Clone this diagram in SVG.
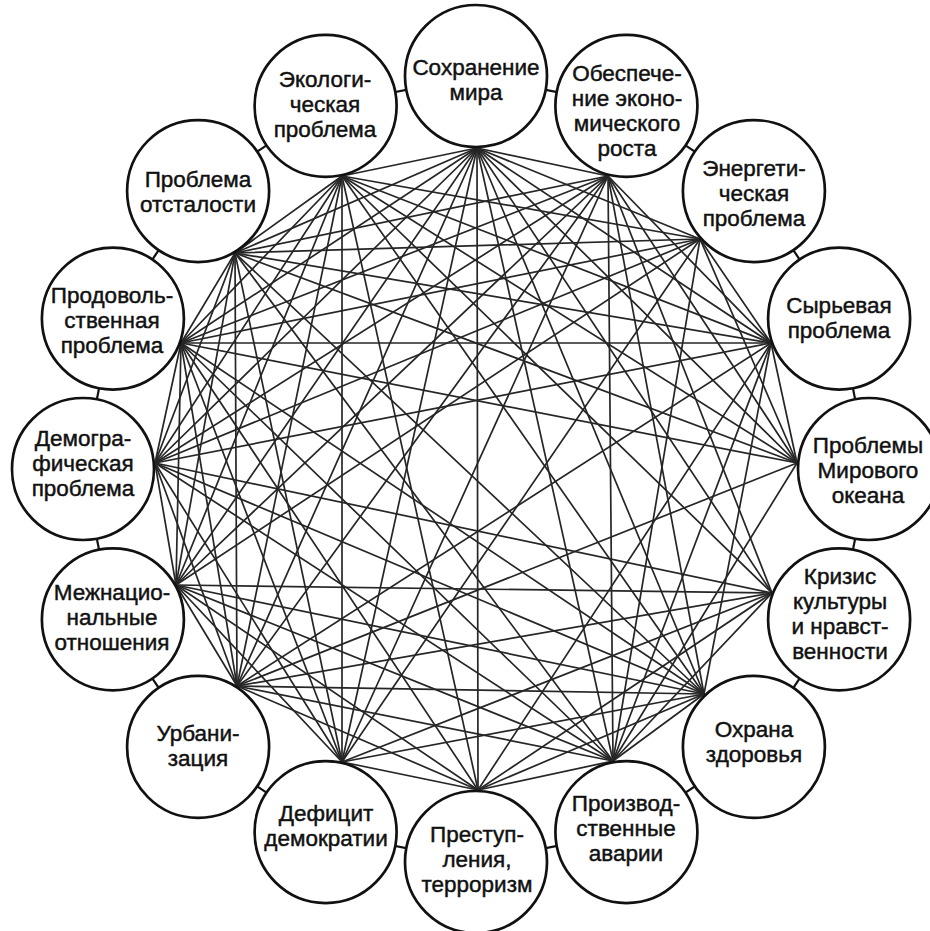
<svg xmlns="http://www.w3.org/2000/svg" width="930" height="931" viewBox="0 0 930 931">
<style>
.bg{fill:#ffffff}
.ring{stroke:#111;stroke-width:2.2}
.e{stroke:#262626;stroke-width:1.7;stroke-linecap:round}
.node{fill:#ffffff;stroke:#111;stroke-width:2.7}
.t{font-family:"Liberation Sans",Arial,sans-serif;font-size:22.5px;fill:#111;stroke:#111;stroke-width:0.45;text-anchor:middle}
</style>
<rect class="bg" x="0" y="0" width="930" height="931"/>
<g id="connectors">
<g id="ring-links" class="ring">
<line x1="476" y1="76" x2="626.4" y2="105.9"/>
<line x1="626.4" y1="105.9" x2="753.9" y2="191.1"/>
<line x1="753.9" y1="191.1" x2="839.1" y2="318.6"/>
<line x1="839.1" y1="318.6" x2="869" y2="469"/>
<line x1="869" y1="469" x2="839.1" y2="619.4"/>
<line x1="839.1" y1="619.4" x2="753.9" y2="746.9"/>
<line x1="753.9" y1="746.9" x2="626.4" y2="832.1"/>
<line x1="626.4" y1="832.1" x2="476" y2="862"/>
<line x1="476" y1="862" x2="325.6" y2="832.1"/>
<line x1="325.6" y1="832.1" x2="198.1" y2="746.9"/>
<line x1="198.1" y1="746.9" x2="112.9" y2="619.4"/>
<line x1="112.9" y1="619.4" x2="83" y2="469"/>
<line x1="83" y1="469" x2="112.9" y2="318.6"/>
<line x1="112.9" y1="318.6" x2="198.1" y2="191.1"/>
<line x1="198.1" y1="191.1" x2="325.6" y2="105.9"/>
<line x1="325.6" y1="105.9" x2="476" y2="76"/>
</g>
<g id="links" class="e">
<line x1="477" y1="148" x2="608" y2="176"/>
<line x1="477" y1="148" x2="342" y2="176"/>
<line x1="700" y1="239" x2="771" y2="343"/>
<line x1="771" y1="343" x2="797" y2="463"/>
<line x1="704" y1="694" x2="613" y2="761"/>
<line x1="613" y1="761" x2="478" y2="790"/>
<line x1="478" y1="790" x2="342" y2="762"/>
<line x1="237" y1="686" x2="176" y2="585"/>
<line x1="176" y1="585" x2="155" y2="463"/>
<line x1="155" y1="463" x2="181" y2="343"/>
<line x1="181" y1="343" x2="235" y2="253"/>
<line x1="235" y1="253" x2="342" y2="176"/>
<line x1="477" y1="148" x2="478" y2="790"/>
<line x1="608" y1="176" x2="342" y2="762"/>
<line x1="704" y1="694" x2="235" y2="253"/>
<line x1="477" y1="148" x2="613" y2="761"/>
<line x1="477" y1="148" x2="342" y2="762"/>
<line x1="608" y1="176" x2="237" y2="686"/>
<line x1="700" y1="239" x2="342" y2="762"/>
<line x1="700" y1="239" x2="176" y2="585"/>
<line x1="771" y1="343" x2="237" y2="686"/>
<line x1="771" y1="343" x2="155" y2="463"/>
<line x1="797" y1="463" x2="181" y2="343"/>
<line x1="772" y1="593" x2="155" y2="463"/>
<line x1="704" y1="694" x2="181" y2="343"/>
<line x1="704" y1="694" x2="342" y2="176"/>
<line x1="613" y1="761" x2="235" y2="253"/>
<line x1="478" y1="790" x2="342" y2="176"/>
<line x1="477" y1="148" x2="704" y2="694"/>
<line x1="477" y1="148" x2="237" y2="686"/>
<line x1="608" y1="176" x2="613" y2="761"/>
<line x1="608" y1="176" x2="176" y2="585"/>
<line x1="700" y1="239" x2="155" y2="463"/>
<line x1="771" y1="343" x2="181" y2="343"/>
<line x1="797" y1="463" x2="237" y2="686"/>
<line x1="797" y1="463" x2="235" y2="253"/>
<line x1="772" y1="593" x2="176" y2="585"/>
<line x1="772" y1="593" x2="342" y2="176"/>
<line x1="704" y1="694" x2="155" y2="463"/>
<line x1="613" y1="761" x2="181" y2="343"/>
<line x1="342" y1="762" x2="342" y2="176"/>
<line x1="477" y1="148" x2="772" y2="593"/>
<line x1="477" y1="148" x2="176" y2="585"/>
<line x1="608" y1="176" x2="704" y2="694"/>
<line x1="608" y1="176" x2="155" y2="463"/>
<line x1="700" y1="239" x2="613" y2="761"/>
<line x1="700" y1="239" x2="181" y2="343"/>
<line x1="771" y1="343" x2="478" y2="790"/>
<line x1="771" y1="343" x2="235" y2="253"/>
<line x1="797" y1="463" x2="342" y2="176"/>
<line x1="772" y1="593" x2="237" y2="686"/>
<line x1="704" y1="694" x2="176" y2="585"/>
<line x1="613" y1="761" x2="155" y2="463"/>
<line x1="478" y1="790" x2="181" y2="343"/>
<line x1="342" y1="762" x2="235" y2="253"/>
<line x1="237" y1="686" x2="342" y2="176"/>
<line x1="477" y1="148" x2="797" y2="463"/>
<line x1="477" y1="148" x2="155" y2="463"/>
<line x1="608" y1="176" x2="772" y2="593"/>
<line x1="608" y1="176" x2="181" y2="343"/>
<line x1="700" y1="239" x2="235" y2="253"/>
<line x1="771" y1="343" x2="613" y2="761"/>
<line x1="771" y1="343" x2="342" y2="176"/>
<line x1="772" y1="593" x2="342" y2="762"/>
<line x1="704" y1="694" x2="237" y2="686"/>
<line x1="613" y1="761" x2="176" y2="585"/>
<line x1="342" y1="762" x2="181" y2="343"/>
<line x1="237" y1="686" x2="235" y2="253"/>
<line x1="176" y1="585" x2="342" y2="176"/>
<line x1="477" y1="148" x2="771" y2="343"/>
<line x1="477" y1="148" x2="181" y2="343"/>
<line x1="608" y1="176" x2="797" y2="463"/>
<line x1="608" y1="176" x2="235" y2="253"/>
<line x1="700" y1="239" x2="342" y2="176"/>
<line x1="771" y1="343" x2="704" y2="694"/>
<line x1="797" y1="463" x2="613" y2="761"/>
<line x1="772" y1="593" x2="478" y2="790"/>
<line x1="704" y1="694" x2="342" y2="762"/>
<line x1="613" y1="761" x2="237" y2="686"/>
<line x1="478" y1="790" x2="176" y2="585"/>
<line x1="342" y1="762" x2="155" y2="463"/>
<line x1="237" y1="686" x2="181" y2="343"/>
<line x1="176" y1="585" x2="235" y2="253"/>
<line x1="155" y1="463" x2="342" y2="176"/>
<line x1="477" y1="148" x2="700" y2="239"/>
<line x1="477" y1="148" x2="235" y2="253"/>
<line x1="608" y1="176" x2="771" y2="343"/>
<line x1="700" y1="239" x2="797" y2="463"/>
<line x1="772" y1="593" x2="613" y2="761"/>
<line x1="704" y1="694" x2="478" y2="790"/>
<line x1="478" y1="790" x2="237" y2="686"/>
<line x1="342" y1="762" x2="176" y2="585"/>
<line x1="237" y1="686" x2="155" y2="463"/>
<line x1="176" y1="585" x2="181" y2="343"/>
<line x1="155" y1="463" x2="235" y2="253"/>
<line x1="181" y1="343" x2="342" y2="176"/>
</g>
</g>
<g id="n0"><circle class="node" cx="476" cy="76" r="71"/><text class="t" x="476" y="74.5">Сохранение</text><text class="t" x="476" y="99.5">мира</text></g>
<g id="n1"><circle class="node" cx="626.4" cy="105.9" r="71"/><text class="t" x="627" y="81.4">Обеспече-</text><text class="t" x="627" y="106.4">ние эконо-</text><text class="t" x="627" y="131.4">мического</text><text class="t" x="627" y="156.4">роста</text></g>
<g id="n2"><circle class="node" cx="753.9" cy="191.1" r="71"/><text class="t" x="754" y="176">Энергети-</text><text class="t" x="754" y="201">ческая</text><text class="t" x="754" y="226">проблема</text></g>
<g id="n3"><circle class="node" cx="839.1" cy="318.6" r="71"/><text class="t" x="839" y="312.6">Сырьевая</text><text class="t" x="839" y="337.6">проблема</text></g>
<g id="n4"><circle class="node" cx="869" cy="469" r="71"/><text class="t" x="868" y="453">Проблемы</text><text class="t" x="868" y="478">Мирового</text><text class="t" x="868" y="503">океана</text></g>
<g id="n5"><circle class="node" cx="839.1" cy="619.4" r="71"/><text class="t" x="840" y="584">Кризис</text><text class="t" x="840" y="609">культуры</text><text class="t" x="840" y="634">и нравст-</text><text class="t" x="840" y="659">венности</text></g>
<g id="n6"><circle class="node" cx="753.9" cy="746.9" r="71"/><text class="t" x="754" y="737.4">Охрана</text><text class="t" x="754" y="762.4">здоровья</text></g>
<g id="n7"><circle class="node" cx="626.4" cy="832.1" r="71"/><text class="t" x="626" y="810.6">Производ-</text><text class="t" x="626" y="835.6">ственные</text><text class="t" x="626" y="860.6">аварии</text></g>
<g id="n8"><circle class="node" cx="476" cy="862" r="71"/><text class="t" x="477" y="841.5">Преступ-</text><text class="t" x="477" y="866.5">ления,</text><text class="t" x="477" y="891.5">терроризм</text></g>
<g id="n9"><circle class="node" cx="325.6" cy="832.1" r="71"/><text class="t" x="326" y="820.6">Дефицит</text><text class="t" x="326" y="845.6">демократии</text></g>
<g id="n10"><circle class="node" cx="198.1" cy="746.9" r="71"/><text class="t" x="198" y="741.4">Урбани-</text><text class="t" x="198" y="766.4">зация</text></g>
<g id="n11"><circle class="node" cx="112.9" cy="619.4" r="71"/><text class="t" x="112" y="600.4">Межнацио-</text><text class="t" x="112" y="625.4">нальные</text><text class="t" x="112" y="650.4">отношения</text></g>
<g id="n12"><circle class="node" cx="83" cy="469" r="71"/><text class="t" x="83" y="446">Демогра-</text><text class="t" x="83" y="471">фическая</text><text class="t" x="83" y="496">проблема</text></g>
<g id="n13"><circle class="node" cx="112.9" cy="318.6" r="71"/><text class="t" x="112" y="302.6">Продоволь-</text><text class="t" x="112" y="327.6">ственная</text><text class="t" x="112" y="352.6">проблема</text></g>
<g id="n14"><circle class="node" cx="198.1" cy="191.1" r="71"/><text class="t" x="198" y="186.6">Проблема</text><text class="t" x="198" y="211.6">отсталости</text></g>
<g id="n15"><circle class="node" cx="325.6" cy="105.9" r="71"/><text class="t" x="325" y="86.9">Экологи-</text><text class="t" x="325" y="111.9">ческая</text><text class="t" x="325" y="136.9">проблема</text></g>
</svg>
